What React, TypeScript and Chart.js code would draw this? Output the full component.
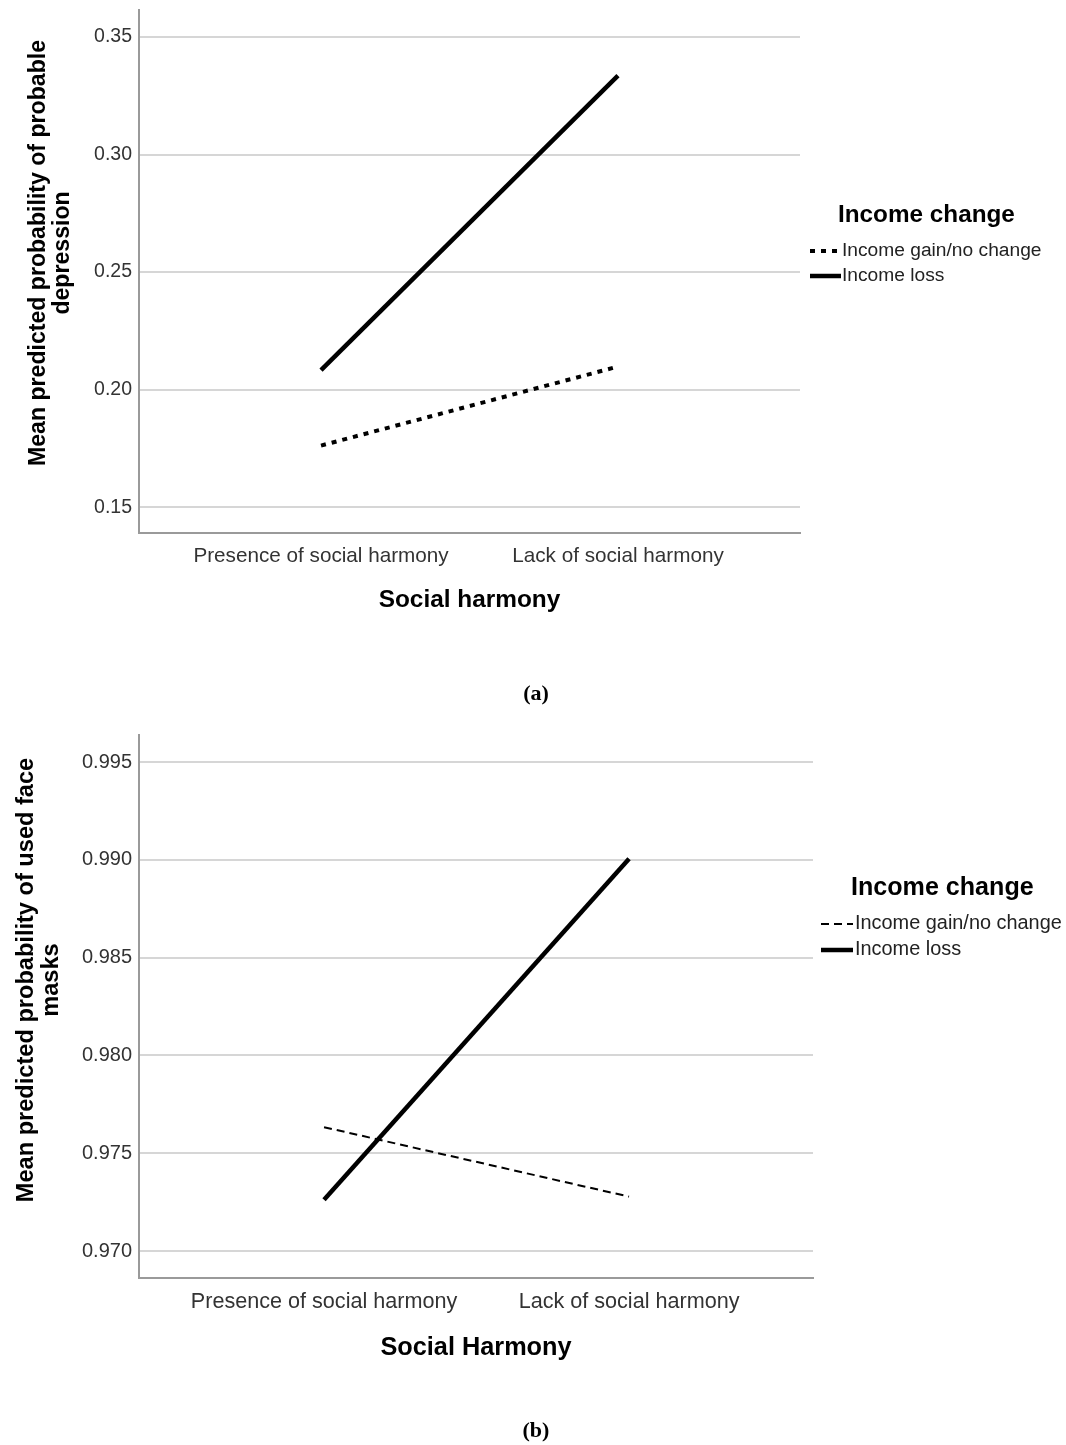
import React, { useEffect, useRef } from "react";
import { Chart, registerables } from "chart.js";
Chart.register(...registerables);

const categories = ["Presence of social harmony", "Lack of social harmony"];
const seriesLabels = ["Income gain/no change", "Income loss"];
const legendTitle = "Income change";

const depressionGain = [0.1762, 0.2098];
const depressionLoss = [0.2083, 0.3336];
const depressionTicks = [0.15, 0.2, 0.25, 0.3, 0.35];

const masksGain = [0.97633, 0.97278];
const masksLoss = [0.97262, 0.99005];
const masksTicks = [0.97, 0.975, 0.98, 0.985, 0.99, 0.995];

const FONT = "'Liberation Sans', Arial, sans-serif";

type PanelCfg = {
  top: number;
  height: number;
  gain: number[];
  loss: number[];
  ticks: number[];
  decimals: number;
  yMin: number;
  yMax: number;
  xMin: number;
  xMax: number;
  padTop: number;
  padRight: number;
  leftWidth: number;
  bottomHeight: number;
  yTickSize: number;
  xTickSize: number;
  xTitle: string;
  xTitleSize: number;
  xTitlePad: number;
  yTitleLines: string[];
  yTitleSize: number;
  yTitleX: number[];
  yTitleY: number;
  legendTitleX: number;
  legendTitleY: number;
  legendTitleSize: number;
  legendSampleX: [number, number];
  legendTextX: number;
  legendY: number[];
  legendSize: number;
  gainWidth: number;
  gainDash: number[];
  lossWidth: number;
};

function makeOverlay(cfg: PanelCfg) {
  return {
    id: "overlay",
    afterDraw(chart: any) {
      const ctx: CanvasRenderingContext2D = chart.ctx;
      ctx.save();
      ctx.fillStyle = "#000";
      ctx.font = `bold ${cfg.yTitleSize}px ${FONT}`;
      ctx.textAlign = "center";
      ctx.textBaseline = "middle";
      cfg.yTitleLines.forEach((line, i) => {
        ctx.save();
        ctx.translate(cfg.yTitleX[i], cfg.yTitleY);
        ctx.rotate(-Math.PI / 2);
        ctx.fillText(line, 0, 0);
        ctx.restore();
      });
      ctx.textAlign = "left";
      ctx.font = `bold ${cfg.legendTitleSize}px ${FONT}`;
      ctx.fillText(legendTitle, cfg.legendTitleX, cfg.legendTitleY);
      chart.data.datasets.forEach((ds: any, i: number) => {
        const y = cfg.legendY[i];
        ctx.beginPath();
        ctx.setLineDash(ds.borderDash || []);
        ctx.lineWidth = ds.borderWidth;
        ctx.strokeStyle = ds.borderColor;
        ctx.lineCap = "butt";
        ctx.moveTo(cfg.legendSampleX[0], y);
        ctx.lineTo(cfg.legendSampleX[1], y);
        ctx.stroke();
        ctx.setLineDash([]);
        ctx.fillStyle = "#222";
        ctx.font = `${cfg.legendSize}px ${FONT}`;
        ctx.fillText(ds.label, cfg.legendTextX, y);
      });
      ctx.restore();
    },
  };
}

function Panel({ cfg }: { cfg: PanelCfg }) {
  const ref = useRef<HTMLCanvasElement>(null);
  useEffect(() => {
    if (!ref.current) return;
    const chart = new Chart(ref.current, {
      type: "line",
      data: {
        datasets: [
          {
            label: seriesLabels[0],
            data: categories.map((_, i) => ({ x: i, y: cfg.gain[i] })),
            borderColor: "#000",
            borderWidth: cfg.gainWidth,
            borderDash: cfg.gainDash,
            pointRadius: 0,
            tension: 0,
            fill: false,
          },
          {
            label: seriesLabels[1],
            data: categories.map((_, i) => ({ x: i, y: cfg.loss[i] })),
            borderColor: "#000",
            borderWidth: cfg.lossWidth,
            pointRadius: 0,
            tension: 0,
            fill: false,
          },
        ],
      },
      options: {
        animation: false,
        responsive: false,
        layout: { padding: { left: 0, top: cfg.padTop, right: cfg.padRight, bottom: 0 } },
        plugins: { legend: { display: false }, tooltip: { enabled: false }, title: { display: false } },
        scales: {
          x: {
            type: "linear",
            min: cfg.xMin,
            max: cfg.xMax,
            afterBuildTicks: (s: any) => {
              s.ticks = categories.map((_, i) => ({ value: i }));
            },
            afterFit: (s: any) => {
              s.height = cfg.bottomHeight;
              s.paddingLeft = 0;
              s.paddingRight = 0;
              s.paddingTop = 0;
              s.paddingBottom = 0;
            },
            grid: { display: false, drawTicks: false },
            border: { display: true, color: "#9a9a9a", width: 2 },
            ticks: {
              padding: 11,
              color: "#333",
              font: { family: FONT, size: cfg.xTickSize },
              maxRotation: 0,
              autoSkip: false,
              callback: (v: any) => categories[Math.round(Number(v))] ?? "",
            },
            title: {
              display: true,
              text: cfg.xTitle,
              color: "#000",
              font: { family: FONT, size: cfg.xTitleSize, weight: "bold" },
              padding: { top: 0, bottom: cfg.xTitlePad },
            },
          },
          y: {
            type: "linear",
            min: cfg.yMin,
            max: cfg.yMax,
            afterBuildTicks: (s: any) => {
              s.ticks = cfg.ticks.map((v) => ({ value: v }));
            },
            afterFit: (s: any) => {
              s.width = cfg.leftWidth;
              s.paddingTop = 0;
              s.paddingBottom = 0;
              s.paddingLeft = 0;
              s.paddingRight = 0;
            },
            grid: { display: true, drawTicks: false, color: "#d6d6d6", lineWidth: 2 },
            border: { display: true, color: "#9a9a9a", width: 2 },
            ticks: {
              padding: 7,
              color: "#333",
              font: { family: FONT, size: cfg.yTickSize },
              autoSkip: false,
              callback: (v: any) => Number(v).toFixed(cfg.decimals),
            },
          },
        },
      },
      plugins: [makeOverlay(cfg)],
    } as any);
    return () => chart.destroy();
  }, [cfg]);
  return (
    <div style={{ position: "absolute", left: 0, top: cfg.top, width: 1066, height: cfg.height }}>
      <canvas ref={ref} width={1066} height={cfg.height} style={{ width: 1066, height: cfg.height, display: "block" }} />
    </div>
  );
}

const panelA: PanelCfg = {
  top: 0,
  height: 650,
  gain: depressionGain,
  loss: depressionLoss,
  ticks: depressionTicks,
  decimals: 2,
  yMin: 0.139,
  yMax: 0.3615,
  xMin: -0.613,
  xMax: 1.613,
  padTop: 10,
  padRight: 266,
  leftWidth: 139,
  bottomHeight: 117,
  yTickSize: 19.5,
  xTickSize: 20.7,
  xTitle: "Social harmony",
  xTitleSize: 24.4,
  xTitlePad: 35,
  yTitleLines: ["Mean predicted probability of probable", "depression"],
  yTitleSize: 23.1,
  yTitleX: [39, 63],
  yTitleY: 253,
  legendTitleX: 838,
  legendTitleY: 215,
  legendTitleSize: 24.3,
  legendSampleX: [810, 841],
  legendTextX: 842,
  legendY: [251, 276],
  legendSize: 19.2,
  gainWidth: 4,
  gainDash: [5, 6],
  lossWidth: 4.5,
};

const panelB: PanelCfg = {
  top: 700,
  height: 745,
  gain: masksGain,
  loss: masksLoss,
  ticks: masksTicks,
  decimals: 3,
  yMin: 0.96862,
  yMax: 0.99638,
  xMin: -0.6066,
  xMax: 1.603,
  padTop: 35,
  padRight: 253,
  leftWidth: 139,
  bottomHeight: 167,
  yTickSize: 20,
  xTickSize: 21.6,
  xTitle: "Social Harmony",
  xTitleSize: 25.3,
  xTitlePad: 82,
  yTitleLines: ["Mean predicted probability of used face", "masks"],
  yTitleSize: 23.6,
  yTitleX: [26, 51],
  yTitleY: 280,
  legendTitleX: 851,
  legendTitleY: 188,
  legendTitleSize: 25.1,
  legendSampleX: [821, 853],
  legendTextX: 855,
  legendY: [224, 250],
  legendSize: 19.9,
  gainWidth: 2,
  gainDash: [8, 5],
  lossWidth: 4.5,
};

export default function App() {
  return (
    <div style={{ position: "absolute", left: 0, top: 0, width: 1066, height: 1445, background: "#fff" }}>
      <Panel cfg={panelA} />
      <Panel cfg={panelB} />
      <div style={{ position: "absolute", left: 0, width: 1072, top: 680, textAlign: "center", font: "bold 22px 'Liberation Serif', serif" }}>(a)</div>
      <div style={{ position: "absolute", left: 0, width: 1072, top: 1417, textAlign: "center", font: "bold 22px 'Liberation Serif', serif" }}>(b)</div>
    </div>
  );
}
